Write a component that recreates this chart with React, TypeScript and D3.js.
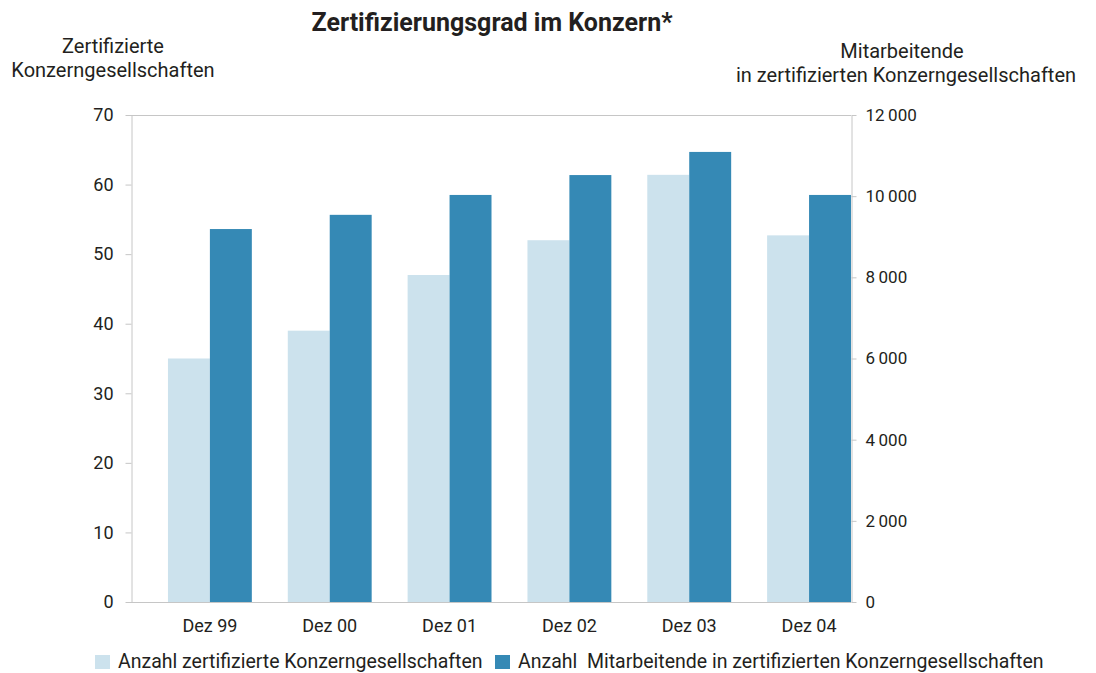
import React, { useRef, useEffect } from 'react';
import * as d3 from 'd3';

// values
const categories = ['Dez 99', 'Dez 00', 'Dez 01', 'Dez 02', 'Dez 03', 'Dez 04'];
const certifiedCompanies = [35, 39, 47, 52, 61.4, 52.7];
const employees = [9190, 9540, 10030, 10520, 11090, 10030];
const leftTicks = [0, 10, 20, 30, 40, 50, 60, 70];
const rightTicks = [0, 2000, 4000, 6000, 8000, 10000, 12000];
const seriesNames = [
  'Anzahl zertifizierte Konzerngesellschaften',
  'Anzahl  Mitarbeitende in zertifizierten Konzerngesellschaften',
];

const LIGHT = '#cce2ed';
const DARK = '#3589b5';
const AXIS = '#c6c6c6';
const TEXT = '#231f20';
const FONT = 'Roboto, "DejaVu Sans", sans-serif';

const App: React.FC = () => {
  const svgRef = useRef<SVGSVGElement | null>(null);

  useEffect(() => {
    if (!svgRef.current) return;
    const width = 1096;
    const height = 673;
    const left = 132;
    const right = 851;
    const top = 115;
    const bottom = 602;

    const svg = d3.select(svgRef.current).attr('width', width).attr('height', height);
    svg.selectAll('*').remove();
    const g = svg.append('g').style('font-family', FONT).attr('fill', TEXT);

    // scales
    const x0 = d3
      .scaleBand<string>()
      .domain(categories)
      .range([left, right])
      .paddingInner(0.3)
      .paddingOuter(0.15)
      .align(1);
    const x1 = d3.scaleBand<string>().domain(['a', 'b']).range([0, x0.bandwidth()]);
    const yLeft = d3.scaleLinear().domain([0, 70]).range([bottom, top]);
    const yRight = d3.scaleLinear().domain([0, 12000]).range([bottom, top]);

    // bars
    const groups = g
      .selectAll('g.group')
      .data(categories)
      .enter()
      .append('g')
      .attr('transform', d => `translate(${x0(d)},0)`);

    groups
      .append('rect')
      .attr('x', x1('a')!)
      .attr('width', x1.bandwidth())
      .attr('y', (_, i) => yLeft(certifiedCompanies[i]))
      .attr('height', (_, i) => bottom - yLeft(certifiedCompanies[i]))
      .attr('fill', LIGHT);

    groups
      .append('rect')
      .attr('x', x1('b')!)
      .attr('width', x1.bandwidth())
      .attr('y', (_, i) => yRight(employees[i]))
      .attr('height', (_, i) => bottom - yRight(employees[i]))
      .attr('fill', DARK);

    // frame lines top and bottom
    g.append('line')
      .attr('x1', left - 6).attr('x2', right)
      .attr('y1', top + 0.5).attr('y2', top + 0.5)
      .attr('stroke', AXIS);
    g.append('line')
      .attr('x1', left - 6).attr('x2', right)
      .attr('y1', bottom + 0.5).attr('y2', bottom + 0.5)
      .attr('stroke', AXIS);

    // left axis
    const axL = g
      .append('g')
      .attr('transform', `translate(${left - 0.5},0)`)
      .call(d3.axisLeft(yLeft).tickValues(leftTicks).tickSize(6).tickSizeOuter(0).tickPadding(12));
    axL.select('.domain').attr('stroke', AXIS);
    axL.selectAll('.tick line').attr('stroke', AXIS);
    axL.selectAll('.tick text')
      .attr('fill', TEXT)
      .style('font-family', FONT)
      .style('font-size', '18px');

    // right axis
    const fmt = (v: number) => d3.format(',')(v).replace(',', '\u2009');
    const axR = g
      .append('g')
      .attr('transform', `translate(${right + 0.5},0)`)
      .call(
        d3
          .axisRight(yRight)
          .tickValues(rightTicks)
          .tickSize(5)
          .tickSizeOuter(0)
          .tickPadding(9)
          .tickFormat(d => fmt(d as number))
      );
    axR.select('.domain').attr('stroke', AXIS);
    axR.selectAll('.tick line').attr('stroke', AXIS);
    axR.selectAll('.tick text')
      .attr('fill', TEXT)
      .style('font-family', FONT)
      .style('font-size', '17px');

    // category labels
    g.selectAll('text.cat')
      .data(categories)
      .enter()
      .append('text')
      .attr('x', d => x0(d)! + x0.bandwidth() / 2)
      .attr('y', 632)
      .attr('text-anchor', 'middle')
      .style('font-size', '18px')
      .text(d => d);

    // title
    g.append('text')
      .attr('x', 492)
      .attr('y', 31)
      .attr('text-anchor', 'middle')
      .style('font-size', '25px')
      .style('font-weight', 'bold')
      .text('Zertifizierungsgrad im Konzern*');

    // axis titles
    const lt = g.append('text').attr('text-anchor', 'middle').style('font-size', '20px');
    lt.append('tspan').attr('x', 113).attr('y', 53).text('Zertifizierte');
    lt.append('tspan').attr('x', 113).attr('y', 77).text('Konzerngesellschaften');
    const rt = g.append('text').attr('text-anchor', 'middle').style('font-size', '20px');
    rt.append('tspan').attr('x', 902).attr('y', 58).text('Mitarbeitende');
    rt.append('tspan').attr('x', 906).attr('y', 82).text('in zertifizierten Konzerngesellschaften');

    // legend
    const legendX = [95, 495];
    const legendColors = [LIGHT, DARK];
    seriesNames.forEach((name, i) => {
      g.append('rect')
        .attr('x', legendX[i])
        .attr('y', 655)
        .attr('width', 15)
        .attr('height', 14)
        .attr('fill', legendColors[i]);
      g.append('text')
        .attr('x', legendX[i] + 23)
        .attr('y', 668)
        .style('font-size', '19.5px')
        .style('white-space', 'pre')
        .text(name);
    });
  }, []);

  return <svg ref={svgRef} style={{ position: 'absolute', left: 0, top: 0 }}></svg>;
};

export default App;
